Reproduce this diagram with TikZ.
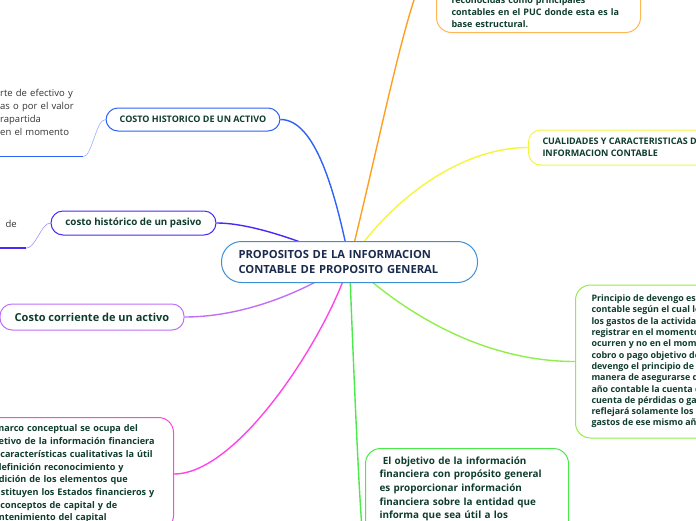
\documentclass[tikz,border=0pt]{standalone}
\usepackage{fontspec}
\setmainfont{Open Sans}
\usepackage{xcolor}

\definecolor{txtgreen}{HTML}{0F3D2D}
\definecolor{txtnavy}{HTML}{1B2B4E}
\definecolor{rootblue}{HTML}{3D8FD6}
\definecolor{histblue}{HTML}{2F62F5}
\definecolor{pasivoblue}{HTML}{4A2AF5}
\definecolor{corrpurple}{HTML}{C070F8}
\definecolor{marcopink}{HTML}{FF45E8}
\definecolor{objgreen}{HTML}{4BEA4B}
\definecolor{devlime}{HTML}{90EE4A}
\definecolor{cualyellow}{HTML}{F5F53C}
\definecolor{pucorange}{HTML}{FF9F1F}

\pgfdeclarelayer{background}
\pgfsetlayers{background,main}

\tikzset{
  topic/.style={draw, fill=white, line width=1pt, rounded corners=12pt, text=txtgreen},
  textbox/.style={topic, rounded corners=15pt, align=left},
  note/.style={text=black!80, align=left, inner xsep=9pt, inner ysep=4pt},
  branch/.style={line width=1.4pt},
  twig/.style={line width=0.6pt},
}

\begin{document}
\begin{tikzpicture}[x=1pt,y=-1pt]
\useasboundingbox (0,0) rectangle (696,520);

% central topic
\node[topic, draw=rootblue, text=txtnavy, rounded corners=20pt, align=left, text width=222pt,
      inner xsep=17pt, minimum height=41pt, anchor=north west,
      font=\bfseries\fontsize{11.2}{14.3}\selectfont] (root) at (221,241)
      {PROPOSITOS DE LA INFORMACION\\CONTABLE DE PROPOSITO GENERAL};

% left side
\node[topic, draw=histblue, minimum width=174pt, minimum height=23pt,
      font=\bfseries\fontsize{9}{11}\selectfont] (hist-activo) at (193,119.5)
      {COSTO HISTORICO DE UN ACTIVO};
\node[note, text width=74pt, text depth=56pt, anchor=base west,
      font=\fontsize{9.5}{13}\selectfont] (hist-activo-note) at (-9,96.5)
      {rte de efectivo y\\as o por el valor\\rapartida\\en el momento};

\node[topic, draw=pasivoblue, minimum width=165pt, minimum height=24pt,
      font=\bfseries\fontsize{9.8}{12}\selectfont] (hist-pasivo) at (133.5,223)
      {costo histórico de un pasivo};
\node[note, text width=40pt, align=right, text depth=16.5pt, anchor=base east,
      font=\fontsize{9.5}{13}\selectfont] (hist-pasivo-note) at (26,227.5) {de};

\node[topic, draw=corrpurple, minimum width=184pt, minimum height=26pt,
      font=\bfseries\fontsize{11}{13}\selectfont] (corr-activo) at (92,317)
      {Costo corriente de un activo};

\node[textbox, draw=marcopink, text width=175pt, inner xsep=14pt, minimum height=113pt,
      anchor=west, font=\bfseries\fontsize{9.1}{12.7}\selectfont] (marco) at (-30,474)
      {El marco conceptual se ocupa del\\objetivo de la información financiera\\las características cualitativas la útil\\la definición reconocimiento y\\medición de los elementos que\\constituyen los Estados financieros y\\los conceptos de capital y de\\mantenimiento del capital};

% right side
\node[textbox, draw=pucorange!75, text width=174pt, inner xsep=15pt, inner ysep=5pt,
      text height=110pt, anchor=south west,
      font=\bfseries\fontsize{9}{12}\selectfont] (puc) at (436,33)
      {reconocidas como principales\\contables en el PUC donde esta es la\\base estructural.};

\node[topic, draw=cualyellow, align=left, inner xsep=14pt, minimum height=35pt, anchor=west,
      font=\bfseries\fontsize{9}{12}\selectfont] (cualidades) at (528,147.5)
      {CUALIDADES Y CARACTERISTICAS DE LA\\INFORMACION CONTABLE};

\node[textbox, draw=devlime, inner xsep=16pt, minimum height=153pt, anchor=west,
      font=\bfseries\fontsize{8.9}{11.3}\selectfont] (devengo) at (575,361.5)
      {Principio de devengo es un principio\\contable según el cual los ingresos y\\los gastos de la actividad se deben\\registrar en el momento en que\\ocurren y no en el momento del\\cobro o pago objetivo del principio de\\devengo el principio de devengo es una\\manera de asegurarse de que en cada\\año contable la cuenta de resultados o\\cuenta de pérdidas o ganancias\\reflejará solamente los ingresos y\\gastos de ese mismo año.};

\node[textbox, draw=objgreen, text width=175pt, inner xsep=14pt, inner ysep=8pt,
      text depth=182pt, anchor=north west,
      font=\bfseries\fontsize{9.9}{13.7}\selectfont] (objetivo) at (365,448)
      {~El objetivo de la información\\financiera con propósito general\\es proporcionar información\\financiera sobre la entidad que\\informa que sea útil a los};

\begin{pgfonlayer}{background}
  \draw[branch, histblue] (root.center) .. controls (335,190) and (315,119.5) .. (hist-activo.east);
  \draw[branch, pucorange] (root.center) .. controls (385,120) and (414,-39) .. (puc.west);
  \draw[branch, cualyellow] (root.center) .. controls (390,200) and (460,147.5) .. (cualidades.west);
  \draw[branch, pasivoblue] (root.center) .. controls (300,240) and (250,223) .. (hist-pasivo.east);
  \draw[branch, corrpurple] (root.center) .. controls (300,295) and (240,317) .. (corr-activo.east);
  \draw[branch, marcopink] (root.center) .. controls (330,330) and (240,474) .. (marco.east);
  \draw[branch, objgreen] (root.center) .. controls (354,380) and (361,550) .. (objetivo.west);
  \draw[branch, devlime] (root.center) .. controls (400,310) and (480,361.5) .. (devengo.west);

  % notes under the left topics
  \draw[twig, histblue!50] (hist-activo.west) .. controls (96,119.5) and (92,156.5) .. (hist-activo-note.south east);
  \draw[line width=1.5pt, histblue] (hist-activo-note.south west) -- (hist-activo-note.south east);
  \draw[twig, pasivoblue!50] (hist-pasivo.west) .. controls (41,223) and (36,248) .. (hist-pasivo-note.south east);
  \draw[line width=1.5pt, pasivoblue] (hist-pasivo-note.south west) -- (hist-pasivo-note.south east);
\end{pgfonlayer}
\end{tikzpicture}
\end{document}
